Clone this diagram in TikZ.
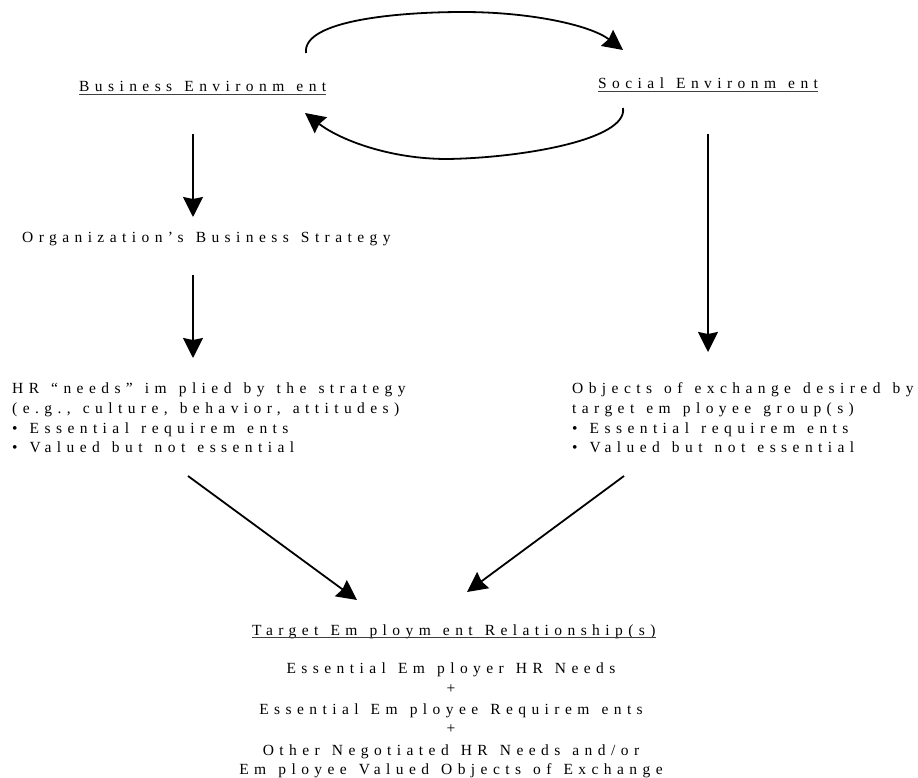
\documentclass[tikz,border=0pt]{standalone}
\usepackage{fontspec}
\setmainfont{Liberation Serif}[LetterSpace=35,WordSpace=1.3]
\usetikzlibrary{arrows.meta}
\begin{document}
\begin{tikzpicture}[x=1pt,y=-1pt,
  txt/.style={inner sep=0pt,font=\fontsize{15.5}{18}\selectfont},
  lbl/.style={txt,anchor=base west},
  ctr/.style={txt,anchor=base},
  conn/.style={line width=1.8pt,-{Stealth[length=20pt,width=20pt,inset=2pt]}},
  uline/.style={line width=0.8pt,black!75}]
\useasboundingbox (0,0) rectangle (918,778);
% top labels
\node[lbl] (be) at (79,92) {Business Environm ent};
\node[lbl] (se) at (598,89) {Social Environm ent};
\draw[uline] ([yshift=-2.5pt]be.base west) -- ([yshift=-2.5pt]be.base east);
\draw[uline] ([yshift=-2.5pt]se.base west) -- ([yshift=-2.5pt]se.base east);
\node[lbl] (st) at (22,243) {Organization’s Business Strategy};
% left block
\node[lbl] (hr1) at (12,393) {HR “needs” im plied by the strategy};
\node[lbl] (hr2) at (12,413) {(e.g., culture, behavior, attitudes)};
\node[lbl] (hr3) at (12,433) {• Essential requirem ents};
\node[lbl] (hr4) at (12,452) {• Valued but not essential};
% right block
\node[lbl] (ob1) at (572,393) {Objects of exchange desired by};
\node[lbl] (ob2) at (572,413) {target em ployee group(s)};
\node[lbl] (ob3) at (572,433) {• Essential requirem ents};
\node[lbl] (ob4) at (572,452) {• Valued but not essential};
% bottom block
\node[lbl] (ter) at (252,635) {Target Em ploym ent Relationship(s)};
\draw[uline] ([yshift=-2.5pt]ter.base west) -- ([yshift=-2.5pt]ter.base east);
\node[ctr] (b1) at (451,673) {Essential Em ployer HR Needs};
\node[ctr] (b2) at (451,693) {+};
\node[ctr] (b3) at (451,714) {Essential Em ployee Requirem ents};
\node[ctr] (b4) at (451,733) {+};
\node[ctr] (b5) at (451,755) {Other Negotiated HR Needs and/or};
\node[ctr] (b6) at (451,774) {Em ployee Valued Objects of Exchange};
% connector ends
\coordinate (a1s) at (193,134); \coordinate (a1e) at (193,217);
\coordinate (a2s) at (193,275); \coordinate (a2e) at (193,358);
\coordinate (a3s) at (708,134); \coordinate (a3e) at (708,352);
\coordinate (a4s) at (188,476); \coordinate (a4e) at (357,600);
\coordinate (a5s) at (624,476); \coordinate (a5e) at (467,592);
\coordinate (t1) at (306,53); \coordinate (tm) at (463,12); \coordinate (t2) at (623,50);
\coordinate (u1) at (623,108); \coordinate (um) at (447,159); \coordinate (u2) at (305,113);
\draw[conn] (a1s) -- (a1e);
\draw[conn] (a2s) -- (a2e);
\draw[conn] (a3s) -- (a3e);
\draw[conn] (a4s) -- (a4e);
\draw[conn] (a5s) -- (a5e);
\draw[conn] (t1) .. controls (302,20) and (400,12) .. (tm) .. controls (530,12) and (590,25) .. (t2);
\draw[conn] (u1) .. controls (628,140) and (520,158) .. (um) .. controls (390,159) and (340,140) .. (u2);
\end{tikzpicture}
\end{document}
